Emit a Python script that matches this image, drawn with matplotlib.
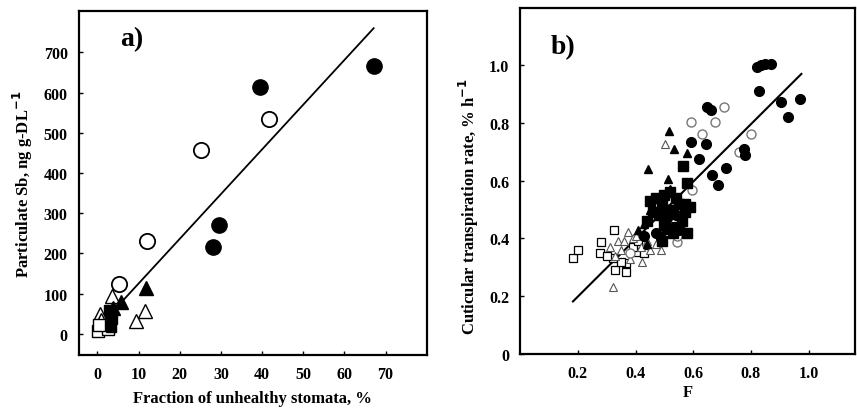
import matplotlib.pyplot as plt

plt.rcParams['font.family'] = ['Liberation Serif', 'DejaVu Serif']
plt.rcParams['font.weight'] = 'bold'

# ---- panel a data ----
a_fc_x = [67.1, 39.6, 29.6, 28.0]
a_fc_y = [665, 613, 272, 216]
a_oc_x = [41.7, 25.2, 12.1, 5.2]
a_oc_y = [535, 456, 232, 124]
a_ft_x = [11.9, 5.8, 3.8]
a_ft_y = [114, 79, 65]
a_ot_x = [3.6, 11.5, 9.4, 0.6, 1.0]
a_ot_y = [95, 58, 33, 50, 35]
a_os_x = [0.2, 2.6, 0.5]
a_os_y = [8, 12, 22]
a_fs_x = [3.0, 3.6, 3.2, 2.8]
a_fs_y = [52, 36, 18, 60]
a_fit_x = [6.2, 67.1]
a_fit_y = [83, 760]

# ---- panel b data ----
b_fc_x = [0.822, 0.835, 0.848, 0.868, 0.827, 0.906, 0.971, 0.929, 0.649, 0.660,
          0.776, 0.781, 0.591, 0.643, 0.620, 0.712, 0.666, 0.687, 0.505, 0.488,
          0.530, 0.550, 0.470, 0.510, 0.540, 0.430]
b_fc_y = [0.992, 1.000, 1.003, 1.003, 0.911, 0.871, 0.883, 0.820, 0.854, 0.843,
          0.710, 0.687, 0.733, 0.728, 0.676, 0.645, 0.621, 0.586, 0.434, 0.400,
          0.440, 0.430, 0.420, 0.470, 0.480, 0.410]
b_fs_x = [0.563, 0.580, 0.450, 0.470, 0.490, 0.500, 0.520, 0.530, 0.550, 0.570,
          0.590, 0.460, 0.480, 0.510, 0.560, 0.580, 0.550, 0.530, 0.500, 0.440,
          0.490, 0.540, 0.570]
b_fs_y = [0.651, 0.590, 0.530, 0.540, 0.520, 0.550, 0.560, 0.500, 0.520, 0.520,
          0.510, 0.490, 0.480, 0.500, 0.460, 0.420, 0.440, 0.420, 0.450, 0.460,
          0.390, 0.540, 0.490]
b_ft_x = [0.517, 0.534, 0.580, 0.442, 0.511, 0.430, 0.450, 0.410, 0.440, 0.520]
b_ft_y = [0.773, 0.710, 0.697, 0.641, 0.607, 0.450, 0.500, 0.430, 0.380, 0.570]
b_oc_x = [0.591, 0.675, 0.706, 0.632, 0.799, 0.758, 0.597, 0.545, 0.545, 0.440,
          0.380, 0.500]
b_oc_y = [0.802, 0.802, 0.854, 0.762, 0.762, 0.699, 0.567, 0.389, 0.410, 0.460,
          0.350, 0.470]
b_ot_x = [0.503, 0.373, 0.321, 0.488, 0.424, 0.340, 0.360, 0.390, 0.310, 0.350,
          0.420, 0.450, 0.400, 0.330, 0.380, 0.440, 0.470]
b_ot_y = [0.728, 0.423, 0.231, 0.360, 0.320, 0.390, 0.390, 0.400, 0.370, 0.360,
          0.370, 0.360, 0.410, 0.340, 0.330, 0.390, 0.380]
b_os_x = [0.183, 0.200, 0.327, 0.281, 0.275, 0.321, 0.330, 0.367, 0.367, 0.402,
          0.300, 0.390, 0.410, 0.350, 0.430]
b_os_y = [0.331, 0.360, 0.429, 0.389, 0.348, 0.331, 0.291, 0.285, 0.314, 0.354,
          0.340, 0.370, 0.390, 0.320, 0.350]
b_fit_x = [0.183, 0.975]
b_fit_y = [0.182, 0.969]

fig = plt.figure(figsize=(8.57, 4.10), dpi=100)
ax1 = fig.add_axes([0.092, 0.132, 0.406, 0.839])
ax2 = fig.add_axes([0.607, 0.134, 0.391, 0.844])

# panel a
ax1.plot(a_fit_x, a_fit_y, color='black', lw=1.3, zorder=1)
ax1.plot(a_fc_x, a_fc_y, 'o', ms=11, mfc='black', mec='black')
ax1.plot(a_oc_x, a_oc_y, 'o', ms=11, mfc='white', mec='black', mew=1.3)
ax1.plot(a_ot_x, a_ot_y, '^', ms=9.5, mfc='white', mec='black', mew=1.0)
ax1.plot(a_os_x, a_os_y, 's', ms=8, mfc='white', mec='black', mew=1.0)
ax1.plot(a_ft_x, a_ft_y, '^', ms=9.5, mfc='black', mec='black')
ax1.plot(a_fs_x, a_fs_y, 's', ms=7, mfc='black', mec='black')
ax1.set_xlim(-4.5, 80)
ax1.set_ylim(-52, 803)
ax1.set_xticks(range(0, 71, 10))
ax1.set_yticks(range(0, 701, 100))
ax1.set_xlabel('Fraction of unhealthy stomata, %', fontsize=12, fontweight='bold', labelpad=6)
ax1.set_ylabel('Particulate Sb, ng g-DL$^{-1}$', fontsize=12, fontweight='bold', labelpad=6)
ax1.text(0.12, 0.90, 'a)', transform=ax1.transAxes, fontsize=20, fontweight='bold')

# panel b
ax2.plot(b_fit_x, b_fit_y, color='black', lw=1.5, zorder=1)
ax2.plot(b_os_x, b_os_y, 's', ms=6, mfc='white', mec='black', mew=0.9)
ax2.plot(b_ot_x, b_ot_y, '^', ms=5.5, mfc='white', mec='#555555', mew=0.8)
ax2.plot(b_oc_x, b_oc_y, 'o', ms=6.5, mfc='white', mec='#777777', mew=1.0)
ax2.plot(b_fs_x, b_fs_y, 's', ms=7, mfc='black', mec='black')
ax2.plot(b_ft_x, b_ft_y, '^', ms=6, mfc='black', mec='black')
ax2.plot(b_fc_x, b_fc_y, 'o', ms=7, mfc='black', mec='black')
ax2.set_xlim(0, 1.162)
ax2.set_ylim(0, 1.197)
ax2.set_xticks([0.2, 0.4, 0.6, 0.8, 1.0])
ax2.set_xticklabels(['0.2', '0.4', '0.6', '0.8', '1.0'])
ax2.set_yticks([0, 0.2, 0.4, 0.6, 0.8, 1.0])
ax2.set_yticklabels(['0', '0.2', '0.4', '0.6', '0.8', '1.0'])
ax2.set_xlabel('F', fontsize=12, fontweight='bold', labelpad=2)
ax2.set_ylabel('Cuticular transpiration rate, % h$^{-1}$', fontsize=12, fontweight='bold')
ax2.yaxis.set_label_coords(-0.118, 0.43)
ax2.text(0.09, 0.87, 'b)', transform=ax2.transAxes, fontsize=20, fontweight='bold')

for ax in (ax1, ax2):
    for s in ax.spines.values():
        s.set_linewidth(1.6)
    ax.tick_params(direction='in', length=3, width=1, labelsize=11.5, pad=8)
    for lab in ax.get_xticklabels() + ax.get_yticklabels():
        lab.set_fontweight('bold')

fig.savefig('out.png', dpi=100)
